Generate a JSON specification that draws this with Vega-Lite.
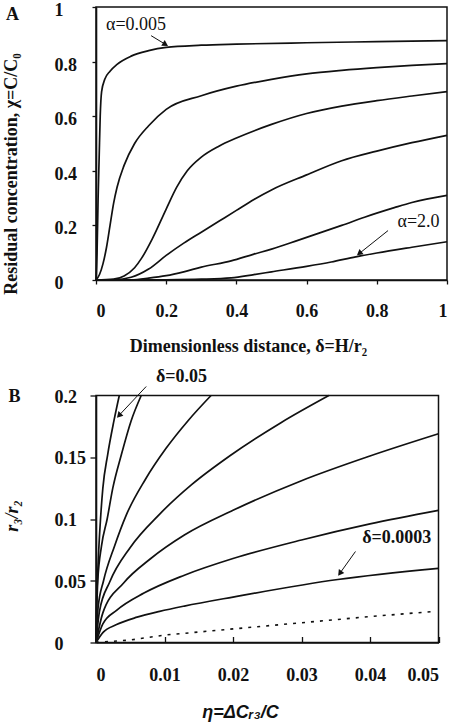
{
  "$schema": "https://vega.github.io/schema/vega-lite/v6.json",
  "background": "white",
  "padding": {"left": 1, "top": 0, "right": 5, "bottom": 5},
  "bounds": "flush",
  "spacing": 115.5,
  "config": {
    "view": {"stroke": "#111", "strokeWidth": 1.5},
    "font": "Liberation Serif",
    "axis": {
      "grid": false,
      "domainColor": "#111",
      "domainWidth": 1.6,
      "tickColor": "#111",
      "tickWidth": 1.3,
      "labelFont": "Liberation Serif",
      "labelFontWeight": "bold",
      "labelFontSize": 18,
      "labelColor": "#111",
      "labelOverlap": false,
      "titleFont": "Liberation Serif",
      "titleFontWeight": "bold",
      "titleFontSize": 18,
      "titleColor": "#111"
    }
  },
  "datasets": {
    "profiles": [
      {"alpha": "0.005", "delta": 0, "chi": 0}, {"alpha": "0.005", "delta": 0.003, "chi": 0.1}, {"alpha": "0.005", "delta": 0.006, "chi": 0.3}, {"alpha": "0.005", "delta": 0.009, "chi": 0.45}, {"alpha": "0.005", "delta": 0.012, "chi": 0.6}, {"alpha": "0.005", "delta": 0.016, "chi": 0.69}, {"alpha": "0.005", "delta": 0.025, "chi": 0.735}, {"alpha": "0.005", "delta": 0.04, "chi": 0.765}, {"alpha": "0.005", "delta": 0.06, "chi": 0.79}, {"alpha": "0.005", "delta": 0.1, "chi": 0.82}, {"alpha": "0.005", "delta": 0.15, "chi": 0.84}, {"alpha": "0.005", "delta": 0.2, "chi": 0.852}, {"alpha": "0.005", "delta": 0.3, "chi": 0.86}, {"alpha": "0.005", "delta": 0.4, "chi": 0.864}, {"alpha": "0.005", "delta": 0.6, "chi": 0.869}, {"alpha": "0.005", "delta": 0.8, "chi": 0.873}, {"alpha": "0.005", "delta": 1, "chi": 0.877},
      {"alpha": "a2", "delta": 0, "chi": 0}, {"alpha": "a2", "delta": 0.01, "chi": 0.02}, {"alpha": "a2", "delta": 0.02, "chi": 0.06}, {"alpha": "a2", "delta": 0.03, "chi": 0.12}, {"alpha": "a2", "delta": 0.04, "chi": 0.2}, {"alpha": "a2", "delta": 0.05, "chi": 0.28}, {"alpha": "a2", "delta": 0.06, "chi": 0.34}, {"alpha": "a2", "delta": 0.08, "chi": 0.42}, {"alpha": "a2", "delta": 0.11, "chi": 0.5}, {"alpha": "a2", "delta": 0.15, "chi": 0.565}, {"alpha": "a2", "delta": 0.2, "chi": 0.625}, {"alpha": "a2", "delta": 0.3, "chi": 0.675}, {"alpha": "a2", "delta": 0.4, "chi": 0.71}, {"alpha": "a2", "delta": 0.5, "chi": 0.735}, {"alpha": "a2", "delta": 0.6, "chi": 0.755}, {"alpha": "a2", "delta": 0.7, "chi": 0.768}, {"alpha": "a2", "delta": 0.8, "chi": 0.778}, {"alpha": "a2", "delta": 0.9, "chi": 0.786}, {"alpha": "a2", "delta": 1, "chi": 0.793},
      {"alpha": "a3", "delta": 0, "chi": 0}, {"alpha": "a3", "delta": 0.05, "chi": 0.003}, {"alpha": "a3", "delta": 0.08, "chi": 0.015}, {"alpha": "a3", "delta": 0.11, "chi": 0.045}, {"alpha": "a3", "delta": 0.13, "chi": 0.08}, {"alpha": "a3", "delta": 0.16, "chi": 0.15}, {"alpha": "a3", "delta": 0.2, "chi": 0.26}, {"alpha": "a3", "delta": 0.23, "chi": 0.34}, {"alpha": "a3", "delta": 0.26, "chi": 0.4}, {"alpha": "a3", "delta": 0.3, "chi": 0.45}, {"alpha": "a3", "delta": 0.35, "chi": 0.49}, {"alpha": "a3", "delta": 0.4, "chi": 0.52}, {"alpha": "a3", "delta": 0.5, "chi": 0.57}, {"alpha": "a3", "delta": 0.6, "chi": 0.61}, {"alpha": "a3", "delta": 0.7, "chi": 0.637}, {"alpha": "a3", "delta": 0.8, "chi": 0.657}, {"alpha": "a3", "delta": 0.9, "chi": 0.674}, {"alpha": "a3", "delta": 1, "chi": 0.69},
      {"alpha": "a4", "delta": 0, "chi": 0}, {"alpha": "a4", "delta": 0.05, "chi": 0.001}, {"alpha": "a4", "delta": 0.1, "chi": 0.01}, {"alpha": "a4", "delta": 0.15, "chi": 0.04}, {"alpha": "a4", "delta": 0.2, "chi": 0.09}, {"alpha": "a4", "delta": 0.25, "chi": 0.135}, {"alpha": "a4", "delta": 0.3, "chi": 0.175}, {"alpha": "a4", "delta": 0.35, "chi": 0.215}, {"alpha": "a4", "delta": 0.4, "chi": 0.255}, {"alpha": "a4", "delta": 0.45, "chi": 0.295}, {"alpha": "a4", "delta": 0.5, "chi": 0.33}, {"alpha": "a4", "delta": 0.6, "chi": 0.385}, {"alpha": "a4", "delta": 0.7, "chi": 0.437}, {"alpha": "a4", "delta": 0.8, "chi": 0.472}, {"alpha": "a4", "delta": 0.9, "chi": 0.503}, {"alpha": "a4", "delta": 1, "chi": 0.53},
      {"alpha": "a5", "delta": 0, "chi": 0}, {"alpha": "a5", "delta": 0.1, "chi": 0.001}, {"alpha": "a5", "delta": 0.15, "chi": 0.007}, {"alpha": "a5", "delta": 0.2, "chi": 0.016}, {"alpha": "a5", "delta": 0.25, "chi": 0.03}, {"alpha": "a5", "delta": 0.3, "chi": 0.047}, {"alpha": "a5", "delta": 0.385, "chi": 0.07}, {"alpha": "a5", "delta": 0.45, "chi": 0.095}, {"alpha": "a5", "delta": 0.5, "chi": 0.113}, {"alpha": "a5", "delta": 0.575, "chi": 0.145}, {"alpha": "a5", "delta": 0.65, "chi": 0.178}, {"alpha": "a5", "delta": 0.7, "chi": 0.2}, {"alpha": "a5", "delta": 0.765, "chi": 0.23}, {"alpha": "a5", "delta": 0.85, "chi": 0.265}, {"alpha": "a5", "delta": 0.9, "chi": 0.284}, {"alpha": "a5", "delta": 1, "chi": 0.31},
      {"alpha": "2.0", "delta": 0, "chi": 0}, {"alpha": "2.0", "delta": 0.2, "chi": 0.001}, {"alpha": "2.0", "delta": 0.3, "chi": 0.003}, {"alpha": "2.0", "delta": 0.385, "chi": 0.008}, {"alpha": "2.0", "delta": 0.45, "chi": 0.02}, {"alpha": "2.0", "delta": 0.5, "chi": 0.03}, {"alpha": "2.0", "delta": 0.6, "chi": 0.05}, {"alpha": "2.0", "delta": 0.67, "chi": 0.066}, {"alpha": "2.0", "delta": 0.74, "chi": 0.085}, {"alpha": "2.0", "delta": 0.8, "chi": 0.099}, {"alpha": "2.0", "delta": 0.9, "chi": 0.12}, {"alpha": "2.0", "delta": 1, "chi": 0.14}
    ],
    "radii": [
      {"d": "0.05", "eta": 0, "r": 0}, {"d": "0.05", "eta": 0.00005, "r": 0.025}, {"d": "0.05", "eta": 0.0002, "r": 0.05}, {"d": "0.05", "eta": 0.0004, "r": 0.075}, {"d": "0.05", "eta": 0.00066, "r": 0.1}, {"d": "0.05", "eta": 0.001, "r": 0.125}, {"d": "0.05", "eta": 0.0017, "r": 0.152}, {"d": "0.05", "eta": 0.0026, "r": 0.179}, {"d": "0.05", "eta": 0.0034, "r": 0.2},
      {"d": "d2", "eta": 0, "r": 0}, {"d": "d2", "eta": 0.0001, "r": 0.025}, {"d": "d2", "eta": 0.00026, "r": 0.05}, {"d": "d2", "eta": 0.0008, "r": 0.078}, {"d": "d2", "eta": 0.00163, "r": 0.1}, {"d": "d2", "eta": 0.00245, "r": 0.125}, {"d": "d2", "eta": 0.0037, "r": 0.152}, {"d": "d2", "eta": 0.0051, "r": 0.179}, {"d": "d2", "eta": 0.0066, "r": 0.2},
      {"d": "d3", "eta": 0, "r": 0}, {"d": "d3", "eta": 0.0003, "r": 0.028}, {"d": "d3", "eta": 0.0011, "r": 0.05}, {"d": "d3", "eta": 0.0027, "r": 0.078}, {"d": "d3", "eta": 0.0044, "r": 0.103}, {"d": "d3", "eta": 0.0072, "r": 0.132}, {"d": "d3", "eta": 0.0102, "r": 0.157}, {"d": "d3", "eta": 0.0135, "r": 0.18}, {"d": "d3", "eta": 0.0168, "r": 0.2},
      {"d": "d4", "eta": 0, "r": 0}, {"d": "d4", "eta": 0.0005, "r": 0.025}, {"d": "d4", "eta": 0.002, "r": 0.049}, {"d": "d4", "eta": 0.005, "r": 0.077}, {"d": "d4", "eta": 0.0093, "r": 0.104}, {"d": "d4", "eta": 0.014, "r": 0.128}, {"d": "d4", "eta": 0.0195, "r": 0.151}, {"d": "d4", "eta": 0.027, "r": 0.178}, {"d": "d4", "eta": 0.034, "r": 0.2},
      {"d": "d5", "eta": 0, "r": 0}, {"d": "d5", "eta": 0.001, "r": 0.024}, {"d": "d5", "eta": 0.004, "r": 0.048}, {"d": "d5", "eta": 0.008, "r": 0.068}, {"d": "d5", "eta": 0.0129, "r": 0.087}, {"d": "d5", "eta": 0.02, "r": 0.107}, {"d": "d5", "eta": 0.03, "r": 0.131}, {"d": "d5", "eta": 0.04, "r": 0.151}, {"d": "d5", "eta": 0.05, "r": 0.169},
      {"d": "d6", "eta": 0, "r": 0}, {"d": "d6", "eta": 0.001, "r": 0.015}, {"d": "d6", "eta": 0.003, "r": 0.026}, {"d": "d6", "eta": 0.007, "r": 0.04}, {"d": "d6", "eta": 0.0129, "r": 0.0545}, {"d": "d6", "eta": 0.02, "r": 0.068}, {"d": "d6", "eta": 0.03, "r": 0.083}, {"d": "d6", "eta": 0.04, "r": 0.096}, {"d": "d6", "eta": 0.05, "r": 0.107},
      {"d": "0.0003", "eta": 0, "r": 0}, {"d": "0.0003", "eta": 0.001, "r": 0.008}, {"d": "0.0003", "eta": 0.003, "r": 0.0145}, {"d": "0.0003", "eta": 0.006, "r": 0.0205}, {"d": "0.0003", "eta": 0.0093, "r": 0.0252}, {"d": "0.0003", "eta": 0.0129, "r": 0.0295}, {"d": "0.0003", "eta": 0.02, "r": 0.0368}, {"d": "0.0003", "eta": 0.0353, "r": 0.051}, {"d": "0.0003", "eta": 0.05, "r": 0.06}
    ],
    "limit": [
      {"eta": 0, "r": 0}, {"eta": 0.005, "r": 0.002}, {"eta": 0.01, "r": 0.006}, {"eta": 0.02, "r": 0.011}, {"eta": 0.03, "r": 0.016}, {"eta": 0.04, "r": 0.021}, {"eta": 0.049, "r": 0.025}
    ]
  },
  "vconcat": [
    {
      "width": 351,
      "height": 273,
      "layer": [
        {
          "data": {"name": "profiles"},
          "mark": {"type": "line", "interpolate": "monotone", "color": "#111", "strokeWidth": 1.7},
          "encoding": {
            "x": {"field": "delta", "type": "quantitative", "scale": {"domain": [0, 1], "nice": false},
              "axis": {"values": [0, 0.2, 0.4, 0.6, 0.8, 1], "format": "~g", "tickSize": 4, "labelPadding": 27.5, "labelBaseline": "middle",
                "title": "Dimensionless distance, δ=H/r₂", "titleX": 152, "titleY": 66, "titleBaseline": "middle"}},
            "y": {"field": "chi", "type": "quantitative", "scale": {"domain": [0, 1], "nice": false},
              "axis": {"values": [0, 0.2, 0.4, 0.6, 0.8, 1], "format": "~g", "tickSize": 4, "labelPadding": 38, "labelAlign": "left", "labelOffset": 3.5,
                "title": "Residual concentration, χ=C/C₀", "titleX": -85, "titleY": 166.5, "titleBaseline": "middle", "titleAngle": -90}},
            "detail": {"field": "alpha"}
          }
        },
        {
          "data": {"values": [{"x": 0.157, "y": 0.895, "x2": 0.198, "y2": 0.863}]},
          "mark": {"type": "rule", "color": "#111", "strokeWidth": 1},
          "encoding": {"x": {"field": "x", "type": "quantitative"}, "y": {"field": "y", "type": "quantitative"}, "x2": {"field": "x2"}, "y2": {"field": "y2"}}
        },
        {
          "data": {"values": [{"x": 0.198, "y": 0.863}]},
          "mark": {"type": "point", "shape": "triangle-up", "filled": true, "color": "#111", "size": 45, "angle": 121, "opacity": 1},
          "encoding": {"x": {"field": "x", "type": "quantitative"}, "y": {"field": "y", "type": "quantitative"}}
        },
        {
          "data": {"values": [{"x": 0.832, "y": 0.181, "x2": 0.75, "y2": 0.097}]},
          "mark": {"type": "rule", "color": "#111", "strokeWidth": 1},
          "encoding": {"x": {"field": "x", "type": "quantitative"}, "y": {"field": "y", "type": "quantitative"}, "x2": {"field": "x2"}, "y2": {"field": "y2"}}
        },
        {
          "data": {"values": [{"x": 0.75, "y": 0.097}]},
          "mark": {"type": "point", "shape": "triangle-up", "filled": true, "color": "#111", "size": 45, "angle": 232, "opacity": 1},
          "encoding": {"x": {"field": "x", "type": "quantitative"}, "y": {"field": "y", "type": "quantitative"}}
        },
        {
          "data": {"values": [{"x": 0.114, "y": 0.934, "label": "α=0.005"}, {"x": 0.919, "y": 0.2125, "label": "α=2.0"}]},
          "mark": {"type": "text", "font": "Liberation Serif", "fontSize": 18, "color": "#111", "align": "center", "baseline": "middle"},
          "encoding": {"x": {"field": "x", "type": "quantitative"}, "y": {"field": "y", "type": "quantitative"}, "text": {"field": "label"}}
        },
        {
          "data": {"values": [{"x": -0.238, "y": 0.969, "label": "A"}]},
          "mark": {"type": "text", "font": "Liberation Serif", "fontSize": 18, "fontWeight": "bold", "color": "#111", "align": "center", "baseline": "middle"},
          "encoding": {"x": {"field": "x", "type": "quantitative"}, "y": {"field": "y", "type": "quantitative"}, "text": {"field": "label"}}
        }
      ]
    },
    {
      "width": 342.5,
      "height": 247,
      "layer": [
        {
          "data": {"name": "radii"},
          "mark": {"type": "line", "interpolate": "monotone", "color": "#111", "strokeWidth": 1.7},
          "encoding": {
            "x": {"field": "eta", "type": "quantitative", "scale": {"domain": [0, 0.05], "nice": false},
              "axis": {"values": [0, 0.005, 0.01, 0.015, 0.02, 0.025, 0.03, 0.035, 0.04, 0.045, 0.05],
                "labelExpr": "round(datum.value * 200) % 2 == 0 ? format(datum.value, '~g') : ''",
                "tickSize": -6, "labelPadding": 39, "labelBaseline": "middle", "labelOverlap": false,
                "title": "η=ΔCᵣ₃/C", "titleFont": "Liberation Sans", "titleFontStyle": "italic", "titleX": 144, "titleY": 70, "titleBaseline": "middle"}},
            "y": {"field": "r", "type": "quantitative", "scale": {"domain": [0, 0.2], "nice": false},
              "axis": {"values": [0, 0.05, 0.1, 0.15, 0.2], "format": "~g",
                "tickSize": 6, "labelPadding": 36, "labelAlign": "left", "labelOffset": 1.5,
                "title": "r₃/r₂", "titleFontStyle": "italic", "titleX": -83.5, "titleY": 120, "titleBaseline": "middle", "titleAngle": -90}},
            "detail": {"field": "d"}
          }
        },
        {
          "data": {"name": "limit"},
          "mark": {"type": "line", "color": "#111", "strokeWidth": 1.6, "strokeDash": [3, 6]},
          "encoding": {"x": {"field": "eta", "type": "quantitative"}, "y": {"field": "r", "type": "quantitative"}}
        },
        {
          "data": {"values": [{"x": 0.00733, "y": 0.2073, "x2": 0.00335, "y2": 0.1838}, {"x": 0.03788, "y": 0.0737, "x2": 0.0356, "y2": 0.056}]},
          "mark": {"type": "rule", "color": "#111", "strokeWidth": 1},
          "encoding": {"x": {"field": "x", "type": "quantitative"}, "y": {"field": "y", "type": "quantitative"}, "x2": {"field": "x2"}, "y2": {"field": "y2"}}
        },
        {
          "data": {"values": [{"x": 0.00335, "y": 0.1838}]},
          "mark": {"type": "point", "shape": "triangle-up", "filled": true, "color": "#111", "size": 45, "angle": 223, "opacity": 1},
          "encoding": {"x": {"field": "x", "type": "quantitative"}, "y": {"field": "y", "type": "quantitative"}}
        },
        {
          "data": {"values": [{"x": 0.0356, "y": 0.056}]},
          "mark": {"type": "point", "shape": "triangle-up", "filled": true, "color": "#111", "size": 45, "angle": 216, "opacity": 1},
          "encoding": {"x": {"field": "x", "type": "quantitative"}, "y": {"field": "y", "type": "quantitative"}}
        },
        {
          "data": {"values": [{"x": 0.01248, "y": 0.215, "label": "δ=0.05"}, {"x": 0.0439, "y": 0.085, "label": "δ=0.0003"}]},
          "mark": {"type": "text", "font": "Liberation Serif", "fontSize": 18, "fontWeight": "bold", "color": "#111", "align": "center", "baseline": "middle"},
          "encoding": {"x": {"field": "x", "type": "quantitative"}, "y": {"field": "y", "type": "quantitative"}, "text": {"field": "label"}}
        },
        {
          "data": {"values": [{"x": -0.0119, "y": 0.1984, "label": "B"}]},
          "mark": {"type": "text", "font": "Liberation Serif", "fontSize": 18, "fontWeight": "bold", "color": "#111", "align": "center", "baseline": "middle"},
          "encoding": {"x": {"field": "x", "type": "quantitative"}, "y": {"field": "y", "type": "quantitative"}, "text": {"field": "label"}}
        }
      ]
    }
  ]
}
